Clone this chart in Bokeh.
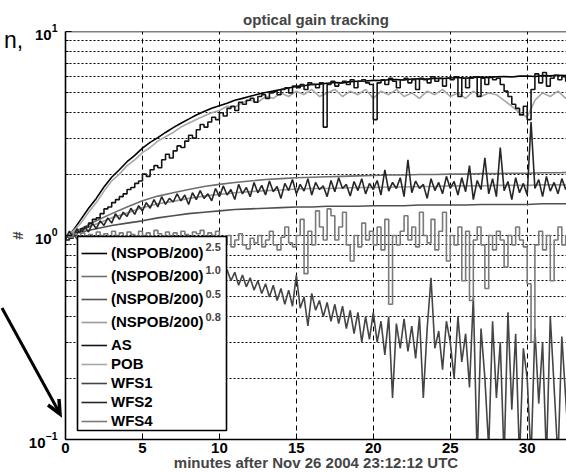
import numpy as np
from bokeh.plotting import figure
from bokeh.layouts import column
from bokeh.models import (Range1d, FixedTicker, Legend, LegendItem, Span,
                          BoxAnnotation, Label, Div)
from bokeh.embed import file_html
from bokeh.resources import INLINE

# ---------------- data ----------------
t_min = list(range(0, 34))                 # 1-minute samples
t_half = np.arange(0, 33.01, 0.5)          # 0.5-minute samples
t_q = np.arange(0, 33.01, 0.25)            # 0.25-minute samples

nspob_25 = [0.98, 1.06, 1.2, 1.36, 1.52, 1.73, 1.93, 2.1, 2.3, 2.47,
            2.68, 2.86, 3.02, 3.2, 3.38, 3.55, 3.72, 3.9, 4.05, 4.2,
            4.33, 4.45, 4.6, 4.7, 4.82, 4.92, 5.02, 5.1, 5.2, 5.28,
            5.38, 5.42, 5.5, 5.52, 5.58, 5.62, 5.6, 5.68, 5.7, 5.72,
            5.76, 5.75, 5.8, 5.82, 5.78, 5.85, 5.86, 5.84, 5.9, 5.88,
            5.92, 5.95, 5.9, 5.96, 5.98, 5.94, 6.0, 6.02, 5.98, 6.04,
            6.05, 6.02, 6.08, 6.06, 6.1, 6.08, 6.12]

nspob_10 = [1.0, 1.08, 1.18, 1.28, 1.38, 1.48, 1.56, 1.62, 1.68, 1.74,
            1.78, 1.82, 1.85, 1.88, 1.9, 1.92, 1.93, 1.94, 1.95, 1.96,
            1.97, 1.98, 1.98, 1.99, 1.99, 2.0, 2.0, 2.01, 2.01, 2.02,
            2.02, 2.03, 2.03, 2.04]

nspob_05 = [1.0, 1.04, 1.08, 1.12, 1.15, 1.18, 1.22, 1.25, 1.28, 1.3,
            1.32, 1.34, 1.35, 1.36, 1.37, 1.38, 1.38, 1.39, 1.39, 1.39,
            1.40, 1.40, 1.40, 1.41, 1.41, 1.41, 1.41, 1.42, 1.42, 1.42,
            1.42, 1.43, 1.43, 1.43]

nspob_08 = [1.0, 1.06, 1.14, 1.22, 1.29, 1.37, 1.43, 1.47, 1.52, 1.56,
            1.59, 1.62, 1.64, 1.66, 1.67, 1.69, 1.7, 1.7, 1.71, 1.72,
            1.72, 1.73, 1.73, 1.74, 1.74, 1.75, 1.75, 1.75, 1.76, 1.76,
            1.76, 1.77, 1.77, 1.77]

as_sig = [0.95, 0.97, 1.0, 1.04, 1.08, 1.1, 1.15, 1.2, 1.22, 1.28,
          1.35, 1.38, 1.45, 1.5, 1.55, 1.6, 1.68, 1.72, 1.8, 1.85,
          2.0, 1.95, 2.1, 2.2, 2.15, 2.35, 2.5, 2.4, 2.6, 2.75,
          2.7, 2.9, 3.1, 3.0, 3.3, 3.5, 3.4, 3.6, 3.8, 3.7,
          4.0, 3.85, 4.2, 4.3, 4.1, 4.5, 4.4, 4.6, 4.7, 4.5,
          4.8, 4.9, 4.7, 5.0, 5.1, 4.9, 5.2, 5.3, 5.0, 5.4,
          5.3, 5.5, 5.2, 5.6, 5.5, 5.3, 5.6, 3.4, 5.5, 5.7,
          5.4, 5.6, 5.7, 5.5, 5.8, 5.3, 5.7, 5.8, 5.6, 5.5,
          3.7, 5.6, 5.8, 5.5, 5.9, 5.7, 5.3, 5.8, 5.9, 5.6,
          5.8, 5.2, 5.9, 5.8, 5.6, 6.0, 5.7, 5.9, 5.4, 5.9,
          5.8, 6.0, 4.8, 5.9, 5.3, 5.9, 6.0, 4.8, 5.9, 5.5,
          6.0, 5.8, 5.9, 5.5, 5.1, 4.8, 4.4, 4.2, 3.9, 4.3,
          3.7, 5.2, 6.2, 5.6, 6.3, 5.4, 5.9, 6.1, 5.8, 6.0, 5.7, 5.9,
          6.0]

pob = [1.0, 1.05, 1.15, 1.3, 1.45, 1.65, 1.85, 2.0, 2.2, 2.35,
       2.55, 2.7, 2.9, 3.05, 3.2, 3.4, 3.55, 3.7, 3.85, 4.0,
       4.1, 4.3, 4.25, 4.5, 4.6, 4.5, 4.8, 4.7, 5.0, 4.8,
       5.1, 4.9, 5.2, 4.8, 5.0, 5.2, 4.8, 5.1, 4.9, 5.2,
       4.7, 5.1, 4.9, 5.2, 4.8, 5.0, 4.7, 5.1, 4.9, 5.2,
       4.8, 5.0, 4.7, 5.1, 4.8, 5.0, 4.9, 4.6, 4.3, 4.0,
       3.8, 4.6, 5.0, 4.8, 5.1, 4.7, 4.9]

wfs1 = [1.0, 0.97, 1.02, 0.96, 1.0, 0.95, 0.99, 0.94, 0.98, 0.93,
        0.96, 0.92, 0.95, 0.9, 0.93, 0.88, 0.91, 0.87, 0.9, 0.85,
        0.88, 0.83, 0.86, 0.81, 0.85, 0.8, 0.83, 0.77, 0.82, 0.76,
        0.8, 0.74, 0.78, 0.72, 0.76, 0.7, 0.74, 0.68, 0.72, 0.66,
        0.7, 0.63, 0.68, 0.6, 0.66, 0.57, 0.64, 0.56, 0.62, 0.54,
        0.6, 0.52, 0.58, 0.5, 0.57, 0.48, 0.55, 0.46, 0.54, 0.45,
        0.64, 0.44, 0.5, 0.36, 0.52, 0.43, 0.48, 0.4, 0.47, 0.38,
        0.46, 0.37, 0.45, 0.35, 0.43, 0.33, 0.42, 0.3, 0.4, 0.31,
        0.42, 0.3, 0.38, 0.26, 0.4, 0.16, 0.37, 0.28, 0.39, 0.27,
        0.36, 0.25, 0.4, 0.16, 0.35, 0.62, 0.28, 0.34, 0.22, 0.38,
        0.3, 0.2, 0.4, 0.24, 0.33, 0.18, 0.5, 0.08, 0.35, 0.2,
        0.09, 0.38, 0.16, 0.3, 0.08, 0.42, 0.14, 0.33, 0.08, 0.28,
        0.2, 0.08, 0.35, 0.15, 0.3, 0.08, 0.4, 0.18, 0.08, 0.32, 0.16, 0.08,
        0.25]

wfs2 = [0.95, 1.05, 0.98, 1.08, 1.02, 1.1, 1.04, 1.15, 1.08, 1.18,
        1.12, 1.22, 1.15, 1.28, 1.2, 1.3, 1.24, 1.36, 1.27, 1.4,
        1.32, 1.45, 1.36, 1.5, 1.38, 1.55, 1.42, 1.52, 1.46, 1.6,
        1.48, 1.58, 1.42, 1.62, 1.5, 1.66, 1.52, 1.6, 1.48, 1.7,
        1.55, 1.75, 1.58, 1.68, 1.5, 1.78, 1.6, 1.72, 1.55, 1.82,
        1.62, 1.76, 1.58, 1.85, 1.64, 1.74, 1.52, 1.8, 1.66, 1.88,
        1.6, 1.78, 1.65, 1.9, 1.58, 1.82, 1.68, 1.75, 1.55, 1.86,
        1.64, 1.92, 1.7, 1.78, 1.56, 1.84, 1.66, 1.9, 1.6, 1.8,
        1.68, 1.86, 1.58, 2.1, 1.65, 1.82, 1.7, 1.92, 1.55, 2.35,
        1.62, 1.85, 1.7, 1.78, 1.52, 1.9, 1.66, 1.82, 1.6, 1.95,
        1.7, 1.84, 1.58, 1.92, 1.64, 2.2, 1.5, 1.86, 1.68, 2.4,
        1.6, 1.9, 1.55, 2.7, 1.66, 1.84, 1.5, 1.92, 1.62, 1.8,
        1.58, 3.6, 1.7, 1.88, 1.55, 1.95, 1.65, 1.82, 1.6, 1.9, 1.68, 1.85,
        1.72]

wfs4 = [1.0, 0.98, 1.02, 0.97, 1.03, 0.99, 1.01, 0.96, 1.04, 1.0,
        1.02, 0.98, 1.05, 1.0, 1.03, 0.97, 1.04, 1.01, 0.99, 1.05,
        1.0, 1.03, 0.98, 1.06, 1.02, 0.99, 1.04, 1.0, 1.03, 0.98,
        1.05, 1.01, 0.97, 1.04, 1.02, 1.06, 0.99, 1.03, 1.0, 1.05,
        0.95, 0.9, 1.0, 0.88, 0.95, 1.02, 0.9, 0.86, 0.97, 0.92,
        1.0, 0.88, 0.95, 1.05, 0.9, 0.85, 0.98, 1.1, 0.92, 0.88,
        1.0, 1.2, 0.65, 1.05, 0.9, 1.32, 1.1, 0.95, 1.35, 1.25,
        0.95, 1.1, 1.3, 0.9, 0.75, 1.0, 0.88, 1.15, 0.95, 1.05,
        0.9, 1.1, 0.85, 1.2, 0.46, 1.0, 0.9, 1.05, 1.25, 0.95,
        1.1, 0.88, 1.3, 1.0, 0.92, 1.2, 0.85, 1.05, 1.3, 0.75,
        1.0, 0.9, 1.1, 0.6, 1.05, 0.48, 0.95, 1.1, 0.9, 0.55,
        1.0, 0.85, 1.05, 0.95, 0.7, 1.0, 0.9, 1.1, 0.95, 0.88,
        0.58, 0.3, 0.9, 1.05, 0.85, 1.0, 0.6, 0.95, 1.1, 0.9, 1.0, 0.95,
        1.0]

x_ticks = [0, 5, 10, 15, 20, 25, 30]
y_ticks = [0.1, 1, 10]
y_minor = [0.2, 0.3, 0.4, 0.5, 0.6, 0.7, 0.8, 0.9, 2, 3, 4, 5, 6, 7, 8, 9]
exponents = ["2.5", "1.0", "0.5", "0.8"]

TITLE = "optical gain tracking"
XLABEL = "minutes after Nov 26 2004 23:12:12 UTC"

# ---------------- styling / layout ----------------
FONT = "Liberation Sans"
FS = "15px"
X0_PX, PX_PER_MIN = 65, 15.39
Y1_PX, PX_PER_DEC = 235, 204
W, H = 566, 473


def at(px, py):
    """canvas pixel -> data coordinates (only for placing annotations)"""
    return (px - X0_PX) / PX_PER_MIN, 10 ** ((Y1_PX - py) / PX_PER_DEC)


p = figure(width=W, height=H, output_backend="svg", toolbar_location=None,
           x_range=Range1d(0, (W - X0_PX) / PX_PER_MIN), y_range=Range1d(0.1, 10),
           y_axis_type="log", min_border_left=65, min_border_right=0,
           min_border_top=31, min_border_bottom=34)
p.outline_line_color = None
p.title.text = TITLE
p.title.text_font = FONT
p.title.text_font_style = "bold"
p.title.text_font_size = FS
p.title.align = "center"
p.title.offset = 4
p.title.standoff = 8

r25 = p.line(t_half, nspob_25, line_color="#000000", line_width=1.6)
r10 = p.line(t_min, nspob_10, line_color="#6e6e6e", line_width=1.6)
r05 = p.line(t_min, nspob_05, line_color="#505050", line_width=1.6)
r08 = p.line(t_min, nspob_08, line_color="#9a9a9a", line_width=1.6)
r_pob = p.line(t_half, pob, line_color="#a8a8a8", line_width=1.6)
r_as = p.step(t_q, as_sig, mode="after", line_color="#141414", line_width=1.6)
r_wfs1 = p.line(t_q, wfs1, line_color="#454545", line_width=1.6)
r_wfs2 = p.line(t_q, wfs2, line_color="#262626", line_width=1.6)
r_wfs4 = p.step(t_q, wfs4, mode="after", line_color="#7a7a7a", line_width=1.6)

# axes
xa = p.xaxis[0]
xa.ticker = FixedTicker(ticks=x_ticks, minor_ticks=[])
xa.axis_label = XLABEL
ya = p.yaxis[0]
ya.ticker = FixedTicker(ticks=y_ticks, minor_ticks=y_minor)
ya.axis_label = "#"
for ax in (xa, ya):
    ax.axis_line_width = 1.6
    ax.major_tick_in = 6
    ax.major_tick_out = 0
    ax.minor_tick_in = 3
    ax.minor_tick_out = 0
    ax.major_label_text_font = FONT
    ax.major_label_text_font_style = "bold"
    ax.major_label_text_font_size = FS
    ax.major_label_text_color = "black"
    ax.axis_label_text_font = FONT
    ax.axis_label_text_font_style = "bold"
    ax.axis_label_text_font_size = FS
xa.major_label_standoff = 3
xa.axis_label_standoff = -2
ya.major_label_standoff = 8
ya.axis_label_standoff = 0

# top frame edge
p.add_layout(Span(location=10, dimension="width", line_color="black", line_width=1.6))

# grids
p.xgrid[0].ticker = xa.ticker
p.xgrid[0].grid_line_color = "black"
p.xgrid[0].grid_line_dash = "5 4"
p.xgrid[0].grid_line_width = 1
p.ygrid[0].ticker = ya.ticker
p.ygrid[0].grid_line_color = "black"
p.ygrid[0].grid_line_dash = "2 2"
p.ygrid[0].minor_grid_line_color = "black"
p.ygrid[0].minor_grid_line_dash = "2 2"

# legend box + two stacked legends
lx0, ly0 = at(77, 430)
lx1, ly1 = at(226, 236)
p.add_layout(BoxAnnotation(left=lx0, right=lx1, bottom=ly0, top=ly1,
                           fill_color="white", fill_alpha=1,
                           line_color="black", line_alpha=1, line_width=1.6))

common = dict(background_fill_alpha=0, border_line_alpha=0, padding=0, margin=0,
              glyph_width=26, glyph_height=16, label_height=16, label_standoff=4,
              label_text_font=FONT, label_text_font_style="bold",
              label_text_font_size=FS, label_text_color="black")
leg1 = Legend(items=[LegendItem(label="(NSPOB/200)", renderers=[r]) for r in (r25, r10, r05, r08)],
              location=(16, 109), spacing=6, **common)
leg2 = Legend(items=[LegendItem(label="AS", renderers=[r_as]),
                     LegendItem(label="POB", renderers=[r_pob]),
                     LegendItem(label="WFS1", renderers=[r_wfs1]),
                     LegendItem(label="WFS2", renderers=[r_wfs2]),
                     LegendItem(label="WFS4", renderers=[r_wfs4])],
              location=(16, 10), spacing=2, **common)
p.add_layout(leg1, "center")
p.add_layout(leg2, "center")

for i, e in enumerate(exponents):
    sx, sy = at(205, 246.5 + 23.25 * i)
    p.add_layout(Label(x=sx, y=sy, text=e, text_font=FONT, text_font_style="bold",
                       text_font_size="11px", text_baseline="alphabetic", text_align="left"))

# slide fragments that lie outside the chart (a word ending and an arrow);
# Bokeh clips annotations to the plot frame, so they sit in an overlay.
overlay_svg = (
    '<svg xmlns="http://www.w3.org/2000/svg" width="70" height="473" '
    'style="position:absolute;left:0;top:0;overflow:visible">'
    '<text x="-1" y="43" font-family="Liberation Sans" font-size="23" fill="black">n,</text>'
    '<line x1="-3" y1="303" x2="54" y2="407" stroke="black" stroke-width="3"/>'
    '<polyline points="43,400 55,409 54,394" fill="none" stroke="black" '
    'stroke-width="3.5" stroke-linejoin="miter"/>'
    '</svg>')
overlay = Div(text=overlay_svg, width=70, height=H,
              styles={"position": "absolute", "left": "0px", "top": "0px",
                      "pointer-events": "none", "z-index": "10"})

root = column(p, overlay)
open("out.html", "w").write(file_html(root, INLINE))
